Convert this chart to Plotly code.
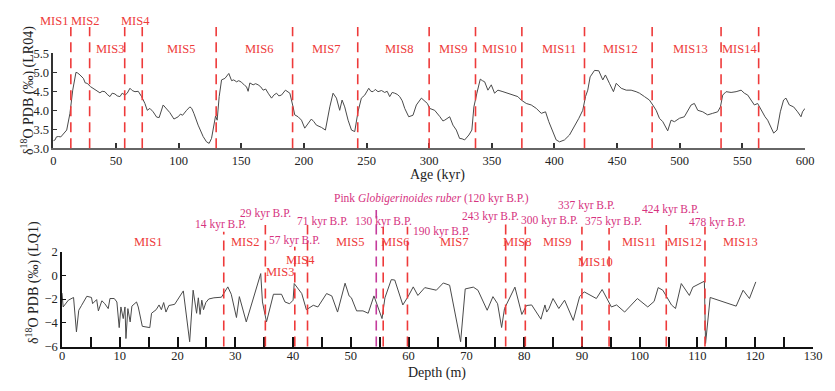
import plotly.graph_objects as go

# ---------------- data ----------------
lr04_age = [0, 1.4, 2.5, 4, 6, 8, 10.7, 13.3, 15.5, 18.1, 19.5, 21.3, 24, 25.5, 27, 29.8, 33.3, 35, 37.2, 39,
            41.2, 43, 45.2, 47, 49.2, 51, 53.2, 55, 57.2, 59, 61.2, 63, 65.2, 67.8, 70.5, 73.1, 75, 77.1, 79.7,
            82.5, 84.5, 87.7, 90.4, 93, 96.3, 99.7, 101.5, 103.2, 106.4, 109, 110.5, 112.2, 115.6, 119.6, 122.3,
            124.4, 126.3, 128.2, 129.5, 130.8, 132.4, 134.3, 137, 140.1, 142.3, 144, 146.3, 148, 150.2, 152.9,
            154.2, 155.5, 156.9, 159.5, 161.5, 163.5, 165.5, 167.5, 169.5, 171.5, 174.2, 176, 178.2, 180, 182.1,
            185.3, 187, 188.8, 191.4, 192.7, 195.4, 198.1, 200.7, 203.4, 206, 208, 210, 214, 217.2, 220.7, 223.3,
            226, 228.6, 230.5, 232.6, 235.3, 238, 240.6, 243.2, 245.9, 248.6, 251.8, 253.5, 255.2, 257, 259.2,
            262, 264.5, 266.5, 268.5, 270.5, 272.5, 274.5, 276.5, 278.5, 280.5, 283.7, 287.1, 289.8, 293.8,
            296.4, 298.6, 300.4, 304.4, 308.4, 311, 312.4, 314.5, 316.4, 319, 321.7, 324.3, 326.3, 328.3, 331.7,
            334.1, 335.7, 338.1, 340.8, 342.5, 344.3, 346.9, 349.6, 352.2, 354.9, 358.9, 362.8, 366.8, 370.8,
            373.5, 377.5, 381.5, 385.5, 389.5, 392.9, 395.5, 398.7, 401.4, 404.1, 406, 408, 412, 416, 419.5,
            422.6, 424.8, 426.6, 428.5, 432, 435.4, 438.6, 440.7, 443.9, 447.1, 449.3, 453.3, 457.3, 461.2,
            465.2, 467.9, 471.9, 475.8, 478.5, 481.2, 483.8, 486.5, 490.4, 493.1, 495.8, 499.8, 503.7, 506.4,
            509.1, 511.7, 514.4, 518.4, 522.3, 526.3, 530.3, 532.5, 534.3, 537, 541, 545, 549, 551.6, 554.3,
            556.9, 559.6, 562.2, 564.9, 568.1, 570.2, 572.9, 575, 577.7, 580.3, 582.9, 584.8, 587.5, 590.9,
            594.1, 596.8, 598, 600]
lr04_d18o = [3.2, 3.22, 3.3, 3.31, 3.3, 3.38, 3.48, 3.92, 4.53, 5.0, 4.98, 4.93, 4.84, 4.72, 4.71, 4.62, 4.55,
             4.52, 4.46, 4.5, 4.49, 4.42, 4.36, 4.45, 4.43, 4.38, 4.36, 4.45, 4.4, 4.45, 4.58, 4.52, 4.49, 4.5,
             4.36, 4.18, 4.0, 4.05, 3.96, 3.82, 3.81, 4.14, 4.05, 3.94, 3.77, 3.83, 3.9, 3.87, 4.0, 4.09, 4.05,
             3.92, 3.61, 3.31, 3.17, 3.13, 3.26, 3.66, 3.85, 3.74, 4.36, 4.8, 4.84, 4.97, 4.78, 4.8, 4.75, 4.78,
             4.74, 4.65, 4.62, 4.5, 4.72, 4.67, 4.7, 4.67, 4.62, 4.53, 4.56, 4.45, 4.32, 4.4, 4.45, 4.38, 4.40,
             4.53, 4.5, 4.45, 4.09, 3.88, 3.83, 3.74, 3.53, 3.66, 3.77, 3.7, 3.61, 3.55, 3.48, 4.09, 4.45, 4.32,
             4.0, 4.27, 4.09, 3.74, 3.48, 3.44, 3.96, 4.32, 4.40, 4.58, 4.5, 4.49, 4.55, 4.49, 4.52, 4.47, 4.5,
             4.36, 4.47, 4.45, 4.42, 4.36, 4.25, 4.05, 3.83, 3.87, 4.14, 4.32, 4.23, 4.18, 4.05, 4.0, 3.84, 3.72,
             3.74, 3.8, 3.83, 3.61, 3.48, 3.26, 3.25, 3.22, 3.35, 3.48, 4.09, 4.45, 4.82, 4.78, 4.75, 4.53, 4.67,
             4.45, 4.53, 4.49, 4.45, 4.40, 4.36, 4.27, 4.18, 4.14, 4.05, 3.92, 3.96, 3.70, 3.44, 3.22, 3.17, 3.2,
             3.22, 3.35, 3.57, 3.79, 4.0, 4.36, 4.53, 4.88, 5.05, 5.04, 4.80, 4.93, 4.71, 4.49, 4.71, 4.58, 4.53,
             4.53, 4.49, 4.45, 4.36, 4.27, 4.14, 4.0, 3.79, 3.70, 3.46, 3.74, 3.70, 3.79, 3.83, 4.0, 4.14, 4.18,
             4.0, 3.96, 3.88, 3.92, 3.96, 4.09, 4.40, 4.49, 4.47, 4.49, 4.53, 4.45, 4.40, 4.27, 4.14, 4.18, 4.0,
             3.83, 3.74, 3.53, 3.40, 3.48, 3.96, 4.27, 4.32, 4.14, 4.09, 3.96, 3.83, 3.96, 4.05]

lq1_depth = [0, 0.2, 1.1, 2.0, 2.5, 2.9, 3.4, 4.3, 5.1, 5.3, 6.0, 6.3, 6.9, 7.4, 8.0, 8.3, 9.05, 9.5, 9.9, 10.2,
             10.6, 10.9, 11.07, 11.4, 11.8, 12.1, 12.9, 13.2, 13.9, 15.2, 15.5, 16.3, 16.8, 17.2, 17.6, 18.0,
             18.5, 19.5, 21.0, 22.1, 22.7, 23.0, 23.3, 23.6, 23.9, 24.2, 24.5, 24.9, 25.4, 26.3, 27.6, 28.7,
             29.3, 30.2, 30.7, 31.9, 34.4, 34.7, 35.4, 36.6, 38.0, 38.6, 39.4, 40.0, 40.2, 41.5, 42.3, 43.5,
             44.3, 45.8, 46.7, 47.7, 49.0, 49.7, 50.1, 51.0, 52.1, 53.0, 54.0, 55.4, 55.9, 57.0, 57.6, 59.0,
             59.9, 60.8, 61.6, 62.8, 64.8, 66.0, 67.1, 69.0, 69.8, 71.2, 72.0, 73.6, 74.6, 75.4, 76.1, 76.6,
             78.4, 79.6, 80.4, 81.3, 82.9, 83.6, 83.9, 84.3, 85.0, 86.0, 87.0, 88.5, 89.6, 90.4, 92.5, 93.5,
             95.1, 96.0, 97.4, 99.6, 101.4, 102.5, 103.2, 104.0, 105.5, 106.2, 107.2, 108.6, 109.2, 111.2,
             111.4, 112.2, 116.7, 117.9, 119.0, 120.1]
lq1_d18o = [-1.5, -2.67, -2.1, -1.87, -4.77, -2.95, -2.53, -1.77, -1.87, -2.39, -2.05, -3.0, -2.15, -2.39,
            -2.81, -1.96, -1.96, -2.25, -4.41, -2.67, -3.65, -2.67, -5.33, -2.81, -3.93, -2.6, -2.25, -2.67,
            -4.3, -4.41, -3.2, -2.9, -2.5, -2.9, -2.3, -3.1, -2.55, -2.45, -1.32, -5.6, -1.26, -2.5, -3.2, -1.9,
            -3.3, -2.1, -2.9, -2.3, -2.0, -1.9, -1.85, -0.98, -1.6, -3.56, -1.8, -3.93, 0.14, -2.25, -3.93,
            -1.6, -1.6, -2.25, -2.4, -2.1, -0.7, -1.54, -2.9, -2.53, -2.67, -1.54, -1.74, -3.1, -0.67, -1.74,
            -1.9, -3.0, -3.0, -3.2, -1.74, -3.65, -1.9, -0.37, -0.4, -2.5, -1.8, -0.98, -1.7, -1.04, -1.26,
            -0.65, -0.84, -5.6, -1.15, -1.0, -1.26, -2.95, -1.8, -2.4, -4.4, -2.8, -1.0, -3.3, -2.55, -2.5,
            -3.7, -2.5, -3.1, -2.8, -1.96, -2.8, -2.1, -3.8, -1.8, -1.4, -1.96, -1.2, -2.67, -2.5, -3.1, -1.96,
            -2.67, -2.2, -1.04, -1.26, -2.5, -2.8, -0.7, -1.7, -1.0, -0.5, -5.75, -1.87, -2.6, -1.26, -1.96,
            -0.56]

# MIS boundaries (kyr) for the LR04 panel
lr04_bounds = [14, 29, 57, 71, 130, 191, 243, 300, 337, 374, 424, 478, 533, 563]
lr04_mis = ["MIS1", "MIS2", "MIS3", "MIS4", "MIS5", "MIS6", "MIS7", "MIS8", "MIS9", "MIS10",
            "MIS11", "MIS12", "MIS13", "MIS14"]

# Age-depth tie points for the LQ1 core
lq1_bound_depth = [28.0, 35.2, 40.3, 42.5, 54.4, 55.6, 59.8, 76.8, 80.2, 90.0, 94.7, 104.6, 111.3]
lq1_bound_text = ["14 kyr B.P.", "29 kyr B.P.", "57 kyr B.P.", "71 kyr B.P.",
                  "Pink <i>Globigerinoides ruber</i> (120 kyr B.P.)", "130 kyr B.P.", "190 kyr B.P.",
                  "243 kyr B.P.", "300 kyr B.P.", "337 kyr B.P.", "375 kyr B.P.", "424 kyr B.P.",
                  "478 kyr B.P."]
lq1_bound_kind = ["mis", "mis", "mis", "mis", "pink", "mis", "mis", "mis", "mis", "mis", "mis", "mis", "mis"]
lq1_mis = ["MIS1", "MIS2", "MIS3", "MIS4", "MIS5", "MIS6", "MIS7", "MIS8", "MIS9", "MIS10",
           "MIS11", "MIS12", "MIS13"]

# ---------------- layout / style ----------------
OFF = 8                      # page body margin of the html page
W, H = 835 - OFF, 391 - OFF  # figure size so that it fills the window exactly
FONT = "'Liberation Serif', 'Times New Roman', Times, serif"
RED = "#ee3a3a"
PINK = "#d6337f"
PINK_LINE = "#c43c9c"

def py(p):  # window pixel row -> paper y
    return 1 - (p - OFF) / H

def px(p):  # window pixel column -> paper x
    return (p - OFF) / W

# label placement (layout only)
lr04_mis_x = [0.5, 25, 45, 66, 102, 164, 218, 276, 319, 356, 404, 453, 509, 548]
lr04_mis_row = [21, 21, 49, 21, 49, 49, 49, 49, 49, 49, 49, 49, 49, 49]
lq1_line_top = [231.7, 225, 246.7, 225, 210, 226.7, 226.7, 223, 226.7, 226.7, 228, 225, 226.7]
lq1_text_row = [224.3, 213.3, 240, 221.7, 198.3, 221.7, 231, 216.7, 220.7, 205, 221.7, 209.3, 222.7]
lq1_text_shift = [-3, 0, 0, 15, 55, 0, 34, -15, 24, 5, 4, 4, 13]
lq1_mis_x = [14.8, 31.7, 37.7, 41.2, 49.8, 57.6, 67.9, 78.7, 85.6, 92.4, 99.8, 107.7, 117.5]
lq1_mis_row = [241.7, 241.7, 271.7, 260, 241.7, 241.7, 241.7, 241.7, 241.7, 261.7, 241.7, 241.7, 241.7]

fig = go.Figure()
fig.add_trace(go.Scatter(x=lr04_age, y=lr04_d18o, mode="lines",
                         line=dict(color="#4a4a4a", width=1), xaxis="x", yaxis="y",
                         showlegend=False, hoverinfo="skip"))
fig.add_trace(go.Scatter(x=lq1_depth, y=lq1_d18o, mode="lines",
                         line=dict(color="#4a4a4a", width=1), xaxis="x2", yaxis="y2",
                         showlegend=False, hoverinfo="skip"))

shapes = []
annotations = []

def note(text, x, y, xref, size, color, xshift=0, angle=0):
    return dict(text=text, x=x, y=y, xref=xref, yref="paper", showarrow=False,
                xanchor="center", yanchor="middle", xshift=xshift, textangle=angle,
                font=dict(family=FONT, size=size, color=color))

# top panel dashed boundaries
for b in lr04_bounds:
    shapes.append(dict(type="line", xref="x", yref="paper", x0=b, x1=b,
                       y0=py(148.3), y1=py(27), line=dict(color=RED, width=1.6, dash="10px,6px")))
for name, x, row in zip(lr04_mis, lr04_mis_x, lr04_mis_row):
    annotations.append(note(name, x, py(row), "x", 12.5, RED))

# bottom panel dashed boundaries + labels
for d, txt, kind, top, row, sh in zip(lq1_bound_depth, lq1_bound_text, lq1_bound_kind,
                                      lq1_line_top, lq1_text_row, lq1_text_shift):
    col = PINK_LINE if kind == "pink" else RED
    shapes.append(dict(type="line", xref="x2", yref="paper", x0=d, x1=d,
                       y0=py(346.5), y1=py(top), line=dict(color=col, width=1.6, dash="10px,6px")))
    annotations.append(note(txt, d, py(row), "x2", 11.5, PINK, xshift=sh))
for name, x, row in zip(lq1_mis, lq1_mis_x, lq1_mis_row):
    annotations.append(note(name, x, py(row), "x2", 12.5, RED))

# axis titles
annotations += [
    note("Age (kyr)", px(437), py(175), "paper", 14, "#222"),
    note("Depth (m)", px(437), py(373), "paper", 14, "#222"),
    note("δ<sup>18</sup>O PDB (‰) (LR04)", px(28), py(91), "paper", 14, "#222", angle=-90),
    note("δ<sup>18</sup>O PDB (‰) (LQ1)", px(32), py(283), "paper", 14, "#222", angle=-90),
]

tickfont = dict(family=FONT, size=12.5, color="#222")
bottom_ticks = list(range(0, 131, 5))
bottom_text = [str(v) if v % 10 == 0 else " " for v in bottom_ticks]

fig.update_layout(
    template="none",
    width=W, height=H, margin=dict(l=0, r=0, t=0, b=0, pad=0, autoexpand=False),
    paper_bgcolor="white", plot_bgcolor="white",
    showlegend=False, font=dict(family=FONT),
    shapes=shapes, annotations=annotations,
    xaxis=dict(domain=[px(53.3), px(805)], range=[0, 600], tickvals=list(range(0, 601, 50)),
               ticks="inside", ticklen=5, tickwidth=1.5, tickcolor="#333",
               showline=True, linecolor="#666", linewidth=2, showgrid=False, zeroline=False,
               tickfont=tickfont, anchor="y", automargin=False),
    yaxis=dict(domain=[py(148.3), py(53.3)], range=[3.0, 5.5], tickvals=[3.0, 3.5, 4.0, 4.5, 5.0, 5.5],
               tickformat=".1f", ticks="inside", ticklen=4, tickcolor="#333",
               showline=True, linecolor="#333", linewidth=1.5, showgrid=False, zeroline=False,
               tickfont=tickfont, anchor="x", automargin=False),
    xaxis2=dict(domain=[px(62), px(813)], range=[0, 130], tickvals=bottom_ticks, ticktext=bottom_text,
                ticks="inside", ticklen=10, tickwidth=1.5, tickcolor="#111",
                showline=True, linecolor="#111", linewidth=1.5, showgrid=False, zeroline=False,
                tickfont=tickfont, anchor="y2", automargin=False, ticklabelstandoff=-3),
    yaxis2=dict(domain=[py(346.5), py(251.5)], range=[-6, 2], tickvals=[-6, -4, -2, 0, 2],
                ticks="inside", ticklen=4, tickcolor="#111",
                showline=True, linecolor="#111", linewidth=1.5, showgrid=False, zeroline=False,
                tickfont=tickfont, anchor="x2", automargin=False),
)

fig.write_html("out.html")
